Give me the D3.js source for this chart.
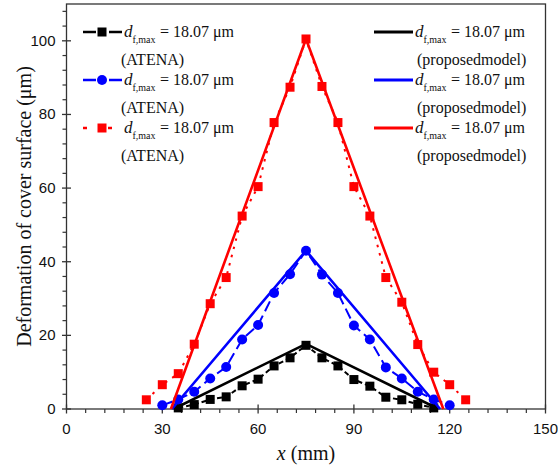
<!DOCTYPE html>
<html>
<head>
<meta charset="utf-8">
<script src="https://cdn.jsdelivr.net/npm/d3@7"></script>
<style>
  body { margin: 0; background: #fff; }
  svg { display: block; }
</style>
</head>
<body>
<svg id="chart"></svg>
<script>
// ATENA results: [x (mm), deformation (um)]
var atenaBlack = [[35,0.3],[40,1.2],[45,2.6],[50,3.3],[55,6.3],[60,8.1],[65,11.7],[70,13.9],[75,17.3],
  [80,13.9],[85,11.7],[90,8.0],[95,6.2],[100,3.2],[105,2.5],[110,1.3],[115,0.3]];
var atenaBlue = [[30,1.0],[35,2.6],[40,4.7],[45,8.3],[50,11.4],[55,18.9],[60,22.8],[65,31.5],[70,36.6],[75,43.0],
  [80,36.5],[85,31.5],[90,22.7],[95,18.9],[100,11.3],[105,8.3],[110,4.7],[115,2.6],[120,1.0]];
var atenaRed = [[25,2.5],[30,6.6],[35,9.6],[40,17.6],[45,28.6],[50,35.7],[55,52.4],[60,60.4],[65,77.8],[70,87.4],[75,100.5],
  [80,87.6],[85,77.8],[90,60.4],[95,52.4],[100,35.7],[105,29.0],[110,17.5],[115,10.0],[120,6.6],[125,2.5]];

// proposed model
var modelBlack = [[33.5,0],[75,17.7],[116.5,0]];
var modelBlue = [[33,0],[75,43],[117,0]];
var modelRed = [[32.7,0],[75,100.5],[118,0]];

var xTicks = [0, 30, 60, 90, 120, 150];
var yTicks = [0, 20, 40, 60, 80, 100];
var legendLabel = "= 18.07 \u03bcm";

(function() {

var W = 558, H = 468;
var pl = 66.5, pr = 545.5, pt = 4, pb = 409;

var svg = d3.select("#chart").attr("width", W).attr("height", H);

var x = d3.scaleLinear().domain([0, 150]).range([pl, pr]);
var y = d3.scaleLinear().domain([0, 110]).range([pb, pt]);

var serif = "'Liberation Serif', 'Times New Roman', serif";
var sans = "'Liberation Sans', Arial, sans-serif";
var ink = "#111";

// frame
svg.append("rect")
  .attr("x", pl).attr("y", pt)
  .attr("width", pr - pl).attr("height", pb - pt)
  .style("fill", "none").style("stroke", "#333").style("stroke-width", 1.3);

// x ticks
var xMinor = d3.range(0, 151, 6).filter(function(v) { return v % 30 != 0; });
svg.selectAll("line.xminor").data(xMinor).enter().append("line")
  .attr("x1", x).attr("x2", x).attr("y1", pb).attr("y2", pb + 4)
  .style("stroke", "#333").style("stroke-width", 1.2);
svg.selectAll("line.xmajor").data(xTicks).enter().append("line")
  .attr("x1", x).attr("x2", x).attr("y1", pb - 4.5).attr("y2", pb + 4.5)
  .style("stroke", "#333").style("stroke-width", 1.3);
svg.selectAll("text.xlab").data(xTicks).enter().append("text")
  .attr("x", x).attr("y", pb + 25)
  .style("font-family", sans).style("font-size", "15px").style("fill", ink)
  .style("text-anchor", "middle")
  .text(function(d) { return d; });

// y ticks
var yMinor = d3.range(0, 111, 4).filter(function(v) { return v % 20 != 0; });
svg.selectAll("line.yminor").data(yMinor).enter().append("line")
  .attr("x1", pl - 4).attr("x2", pl).attr("y1", y).attr("y2", y)
  .style("stroke", "#333").style("stroke-width", 1.2);
svg.selectAll("line.ymajor").data(yTicks).enter().append("line")
  .attr("x1", pl - 4.5).attr("x2", pl + 4.5).attr("y1", y).attr("y2", y)
  .style("stroke", "#333").style("stroke-width", 1.3);
svg.selectAll("text.ylab").data(yTicks).enter().append("text")
  .attr("x", pl - 11).attr("y", function(d) { return y(d) + 5; })
  .style("font-family", sans).style("font-size", "15px").style("fill", ink)
  .style("text-anchor", "end")
  .text(function(d) { return d; });

// axis titles
var xt = svg.append("text")
  .attr("x", (pl + pr) / 2).attr("y", 460)
  .style("font-family", serif).style("font-size", "20px").style("fill", ink)
  .style("text-anchor", "middle");
xt.append("tspan").style("font-style", "italic").text("x");
xt.append("tspan").text(" (mm)");

svg.append("text")
  .attr("transform", "translate(31," + ((pt + pb) / 2) + ") rotate(-90)")
  .style("font-family", serif).style("font-size", "20px").style("fill", ink)
  .style("text-anchor", "middle")
  .text("Deformation of cover surface (\u03bcm)");

// series
var line = d3.line()
  .x(function(d) { return x(d[0]); })
  .y(function(d) { return y(d[1]); });

var atena = [
  { data: atenaBlack, color: "#000", dash: "5,3", marker: "square" },
  { data: atenaBlue, color: "#0000ff", dash: "11,5", marker: "circle" },
  { data: atenaRed, color: "#ff0000", dash: "2.5,6", marker: "square" }
];
var model = [
  { data: modelBlack, color: "#000" },
  { data: modelBlue, color: "#0000ff" },
  { data: modelRed, color: "#ff0000" }
];

function drawMarker(g, type, cx, cy, color) {
  if (type == "square") {
    g.append("rect")
      .attr("x", cx - 4.5).attr("y", cy - 4.5)
      .attr("width", 9).attr("height", 9)
      .style("fill", color);
  } else {
    g.append("circle")
      .attr("cx", cx).attr("cy", cy).attr("r", 5)
      .style("fill", color);
  }
}

atena.forEach(function(s) {
  svg.append("path")
    .attr("d", line(s.data))
    .style("fill", "none").style("stroke", s.color)
    .style("stroke-width", 2).style("stroke-dasharray", s.dash);
  var g = svg.append("g");
  s.data.forEach(function(d) { drawMarker(g, s.marker, x(d[0]), y(d[1]), s.color); });
});

model.forEach(function(s) {
  svg.append("path")
    .attr("d", line(s.data))
    .style("fill", "none").style("stroke", s.color)
    .style("stroke-width", 2.6);
});

// legend
function legendText(tx, ty, second, x2) {
  var t = svg.append("text")
    .attr("x", tx).attr("y", ty)
    .style("font-family", serif).style("fill", ink);
  t.append("tspan").style("font-style", "italic").style("font-size", "17px").text("d");
  t.append("tspan").style("font-size", "10px").attr("dy", 6).text("f,max");
  t.append("tspan").style("font-size", "16px").attr("x", tx + 36).attr("dy", -6).text(legendLabel);
  svg.append("text")
    .attr("x", x2).attr("y", ty + 28)
    .style("font-family", serif).style("font-size", "16px").style("fill", ink)
    .text(second);
}

var rowY = [32, 80, 128];
atena.forEach(function(s, i) {
  var ly = rowY[i];
  svg.append("line")
    .attr("x1", 83).attr("x2", 122).attr("y1", ly).attr("y2", ly)
    .style("stroke", s.color).style("stroke-width", 2.4)
    .style("stroke-dasharray", i == 2 ? "4,21" : "13,13");
  drawMarker(svg, s.marker, 102, ly, s.color);
  legendText(124, ly + 5, "(ATENA)", 121);
});
model.forEach(function(s, i) {
  var ly = rowY[i];
  svg.append("line")
    .attr("x1", 374).attr("x2", 413).attr("y1", ly).attr("y2", ly)
    .style("stroke", s.color).style("stroke-width", 3);
  legendText(415, ly + 5, "(proposedmodel)", 417);
});

})();
</script>
</body>
</html>
